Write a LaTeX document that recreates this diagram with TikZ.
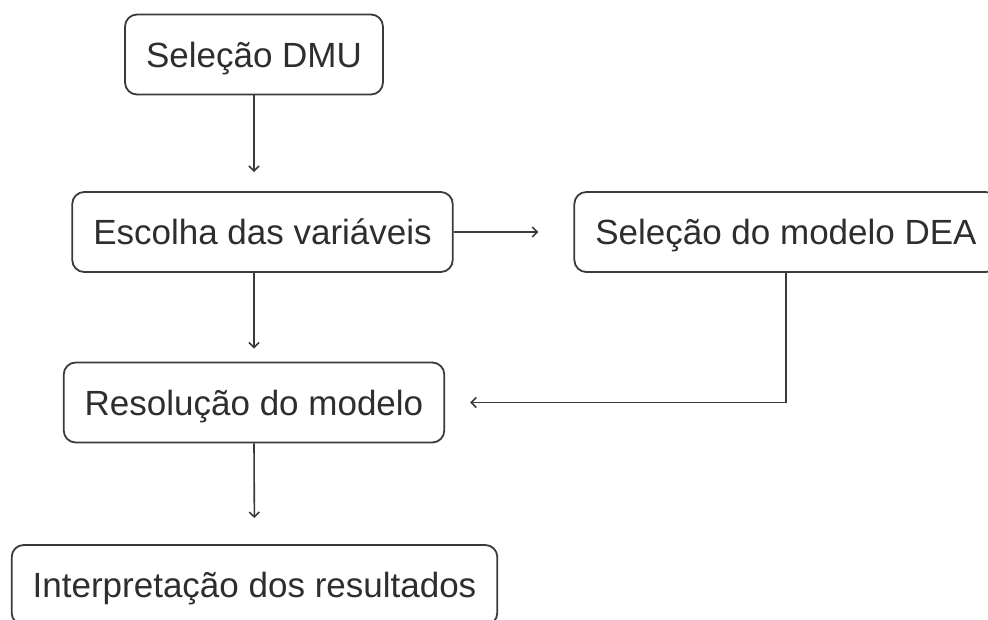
\documentclass[tikz,border=0pt]{standalone}
\usepackage{fontspec}
\setmainfont{Liberation Sans}
\usetikzlibrary{arrows.meta}
\definecolor{linegray}{HTML}{3A3A3A}
\definecolor{textgray}{HTML}{2E2E2E}
\begin{document}
\begin{tikzpicture}[x=1pt, y=-1pt, >={Straight Barb[length=5pt,width=10pt]}, line width=1.6pt, draw=linegray,
main node/.style={rectangle,rounded corners=12pt,draw=linegray,line width=1.8pt,minimum height=80pt,inner xsep=21pt,text height=25pt,text depth=0pt,text=textgray,font=\fontsize{35}{40}\selectfont}]
\useasboundingbox (0,0) rectangle (988,619);
\node[main node] (dmu) at (254,54.5) {Seleção DMU};
\node[main node] (esc) at (262.5,232) {Escolha das variáveis};
\node[main node] (dea) at (786,232) {Seleção do modelo DEA};
\node[main node] (res) at (254,402.5) {Resolução do modelo};
\node[main node] (int) at (254.5,585) {Interpretação dos resultados};
\draw [->, shorten >=19pt] (dmu.south) -- (dmu.south |- esc.north);
\draw [->, shorten >=35pt] (esc.east) -- (dea.west);
\draw [->, shorten >=13pt] (res.north |- esc.south) -- (res.north);
\draw [->, shorten >=25pt] (dea.south) |- (res.east);
\draw [->, shorten >=26pt] (res.south) -- (int.north);
\end{tikzpicture}
\end{document}
